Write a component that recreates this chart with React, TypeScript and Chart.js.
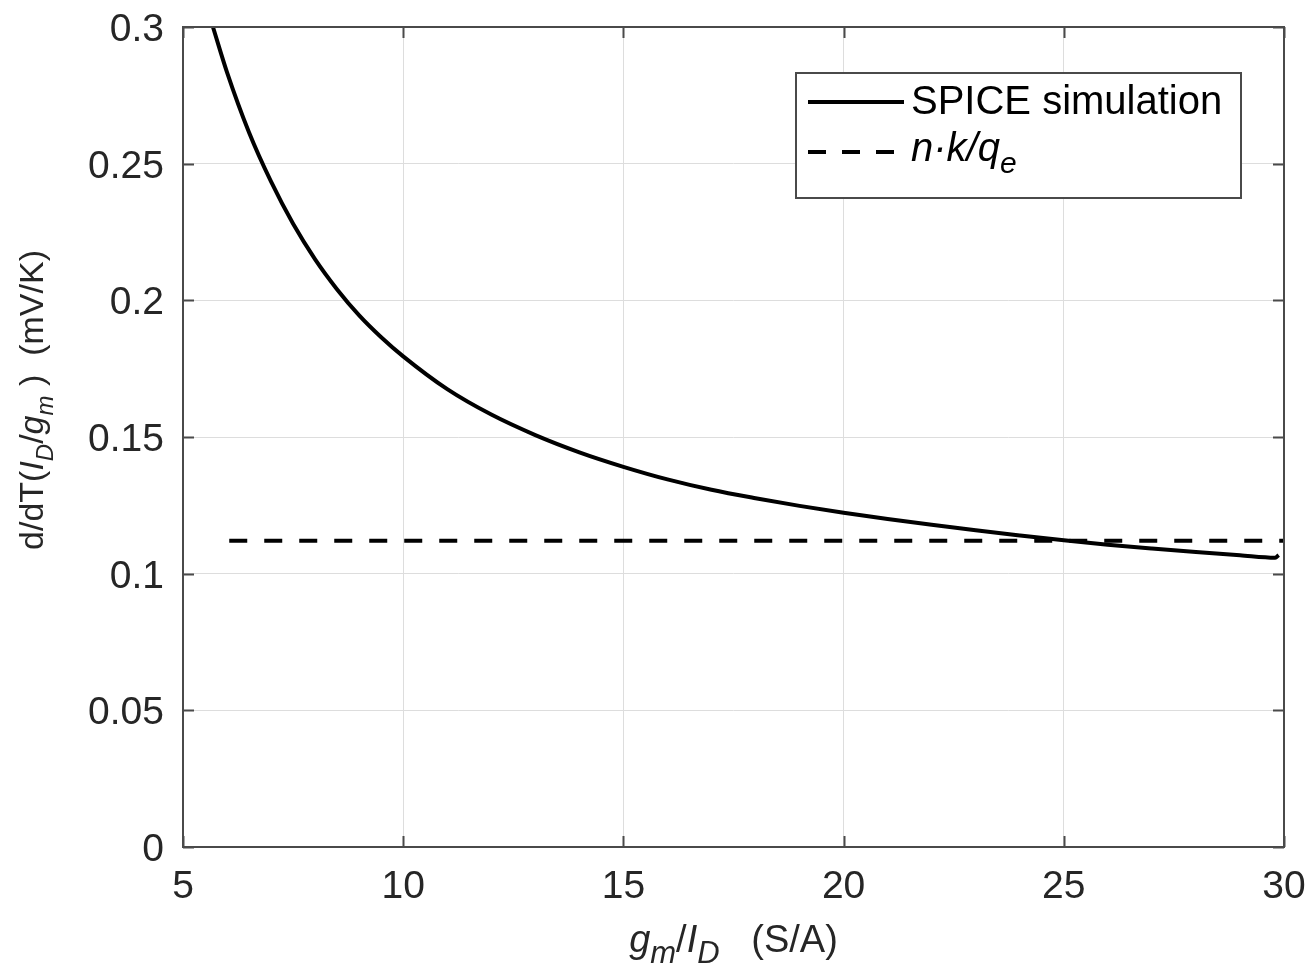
import React, { useEffect, useRef } from "react";
import { Chart, registerables } from "chart.js";

Chart.register(...registerables);

// SPICE simulation curve: x = gm/ID (S/A), y = d/dT(ID/gm) (mV/K)
const spiceX = [5.68, 6, 6.5, 7, 7.5, 8, 8.5, 9, 9.5, 10, 11, 12, 13, 14, 15, 16, 17, 18, 19, 20, 21, 22, 23, 24, 25, 26, 27, 28, 29, 29.8, 29.88];
const spiceY = [0.3, 0.2834, 0.2614, 0.2434, 0.228, 0.215, 0.204, 0.1945, 0.1865, 0.1795, 0.1675, 0.1582, 0.1507, 0.1444, 0.1391, 0.1345, 0.1307, 0.1276, 0.1248, 0.1223, 0.12, 0.1179, 0.1159, 0.114, 0.1122, 0.1106, 0.1092, 0.1079, 0.1067, 0.1058, 0.1068];

// n·k/q_e constant
const nkqX = [6.05, 30];
const nkqY = [0.112, 0.112];

const xTicks = [5, 10, 15, 20, 25, 30];
const xTickLabels = ["5", "10", "15", "20", "25", "30"];
const yTicks = [0, 0.05, 0.1, 0.15, 0.2, 0.25, 0.3];
const yTickLabels = ["0", "0.05", "0.1", "0.15", "0.2", "0.25", "0.3"];

const FONT = '"Liberation Sans", Arial, Helvetica, sans-serif';
const TEXT = "#262626";
const TICK_SIZE = 39;

type Seg = { t: string; it?: boolean; sub?: boolean };

function segFont(s: Seg, size: number, subScale: number) {
  const sz = s.sub ? Math.round(size * subScale) : size;
  return `${s.it ? "italic " : ""}${sz}px ${FONT}`;
}

function richWidth(ctx: CanvasRenderingContext2D, segs: Seg[], size: number, subScale: number) {
  let w = 0;
  for (const s of segs) {
    ctx.font = segFont(s, size, subScale);
    w += ctx.measureText(s.t).width;
  }
  return w;
}

function drawRich(ctx: CanvasRenderingContext2D, segs: Seg[], x: number, y: number, size: number, subScale: number) {
  let cx = x;
  ctx.textBaseline = "alphabetic";
  ctx.textAlign = "left";
  for (const s of segs) {
    ctx.font = segFont(s, size, subScale);
    ctx.fillText(s.t, cx, s.sub ? y + size * 0.3 : y);
    cx += ctx.measureText(s.t).width;
  }
}

const decorPlugin = {
  id: "decor",
  afterDraw(chart: any) {
    const ctx: CanvasRenderingContext2D = chart.ctx;
    const { left, right, top, bottom } = chart.chartArea;
    const xs = chart.scales.x;
    const ys = chart.scales.y;
    ctx.save();
    // box
    ctx.strokeStyle = "#4a4a4a";
    ctx.lineWidth = 2;
    ctx.strokeRect(left, top, right - left, bottom - top);
    // inward ticks
    const tl = 11;
    ctx.beginPath();
    for (const v of xTicks) {
      const px = Math.round(xs.getPixelForValue(v)) + 0.5;
      ctx.moveTo(px, bottom);
      ctx.lineTo(px, bottom - tl);
      ctx.moveTo(px, top);
      ctx.lineTo(px, top + tl);
    }
    for (const v of yTicks) {
      const py = Math.round(ys.getPixelForValue(v)) + 0.5;
      ctx.moveTo(left, py);
      ctx.lineTo(left + tl, py);
      ctx.moveTo(right, py);
      ctx.lineTo(right - tl, py);
    }
    ctx.stroke();

    // tick labels
    ctx.fillStyle = TEXT;
    ctx.font = `${TICK_SIZE}px ${FONT}`;
    ctx.textBaseline = "alphabetic";
    ctx.textAlign = "center";
    xTicks.forEach((v, i) => {
      ctx.fillText(xTickLabels[i], xs.getPixelForValue(v), bottom + 51);
    });
    ctx.textAlign = "right";
    yTicks.forEach((v, i) => {
      ctx.fillText(yTickLabels[i], left - 19, ys.getPixelForValue(v) + 14);
    });

    // legend
    const lx0 = 796, ly0 = 73, lx1 = 1241, ly1 = 198;
    ctx.fillStyle = "#ffffff";
    ctx.fillRect(lx0, ly0, lx1 - lx0, ly1 - ly0);
    ctx.strokeStyle = "#4a4a4a";
    ctx.lineWidth = 2;
    ctx.strokeRect(lx0, ly0, lx1 - lx0, ly1 - ly0);
    ctx.strokeStyle = "#000";
    ctx.lineWidth = 4;
    ctx.setLineDash([]);
    ctx.beginPath();
    ctx.moveTo(808, 102);
    ctx.lineTo(904, 102);
    ctx.stroke();
    ctx.setLineDash([18, 16]);
    ctx.beginPath();
    ctx.moveTo(808, 152);
    ctx.lineTo(904, 152);
    ctx.stroke();
    ctx.setLineDash([]);
    ctx.fillStyle = "#000";
    drawRich(ctx, [{ t: "SPICE simulation" }], 911, 114, 40, 0.75);
    drawRich(ctx, [{ t: "n·k/q", it: true }, { t: "e", it: true, sub: true }], 911, 161, 40, 0.75);

    // x title
    ctx.fillStyle = TEXT;
    const xt: Seg[] = [
      { t: "g", it: true },
      { t: "m", it: true, sub: true },
      { t: "/" },
      { t: "I", it: true },
      { t: "D", it: true, sub: true },
      { t: "   (S/A)" },
    ];
    const xw = richWidth(ctx, xt, 38, 0.82);
    drawRich(ctx, xt, (left + right) / 2 - xw / 2, 952, 38, 0.82);

    // y title
    const yt: Seg[] = [
      { t: "d/dT(" },
      { t: "I", it: true },
      { t: "D", it: true, sub: true },
      { t: "/" },
      { t: "g", it: true },
      { t: "m", it: true, sub: true },
      { t: " )  (mV/K)" },
    ];
    const yw = richWidth(ctx, yt, 34, 0.72);
    ctx.translate(43, 400);
    ctx.rotate(-Math.PI / 2);
    drawRich(ctx, yt, -yw / 2, 0, 34, 0.72);
    ctx.restore();
  },
};

export default function App() {
  const ref = useRef<HTMLCanvasElement>(null);
  useEffect(() => {
    document.body.style.margin = "0";
    document.body.style.background = "#fff";
    const spice = spiceX.map((x, i) => ({ x, y: spiceY[i] }));
    const nkq = nkqX.map((x, i) => ({ x, y: nkqY[i] }));
    const chart = new Chart(ref.current!, {
      type: "line",
      data: {
        datasets: [
          {
            label: "SPICE simulation",
            data: spice,
            borderColor: "#000",
            borderWidth: 4,
            pointRadius: 0,
            cubicInterpolationMode: "monotone",
            fill: false,
          },
          {
            label: "n·k/q_e",
            data: nkq,
            borderColor: "#000",
            borderWidth: 4,
            borderDash: [18, 17],
            pointRadius: 0,
            fill: false,
          },
        ],
      },
      options: {
        responsive: false,
        animation: false,
        layout: { padding: { left: 0, top: 27, right: 28, bottom: 0 } },
        plugins: { legend: { display: false }, tooltip: { enabled: false } },
        scales: {
          x: {
            type: "linear",
            min: 5,
            max: 30,
            afterFit: (s: any) => {
              s.height = 127;
            },
            afterBuildTicks: (s: any) => {
              s.ticks = xTicks.map((v) => ({ value: v }));
            },
            border: { display: false },
            grid: { color: "#dddddd", lineWidth: 1, drawTicks: false },
            ticks: { display: false },
          },
          y: {
            type: "linear",
            min: 0,
            max: 0.3,
            afterFit: (s: any) => {
              s.width = 183;
            },
            afterBuildTicks: (s: any) => {
              s.ticks = yTicks.map((v) => ({ value: v }));
            },
            border: { display: false },
            grid: { color: "#dddddd", lineWidth: 1, drawTicks: false },
            ticks: { display: false },
          },
        },
      },
      plugins: [decorPlugin],
    });
    return () => chart.destroy();
  }, []);
  return (
    <div style={{ width: 1312, height: 974, background: "#fff" }}>
      <canvas ref={ref} width={1312} height={974} />
    </div>
  );
}
